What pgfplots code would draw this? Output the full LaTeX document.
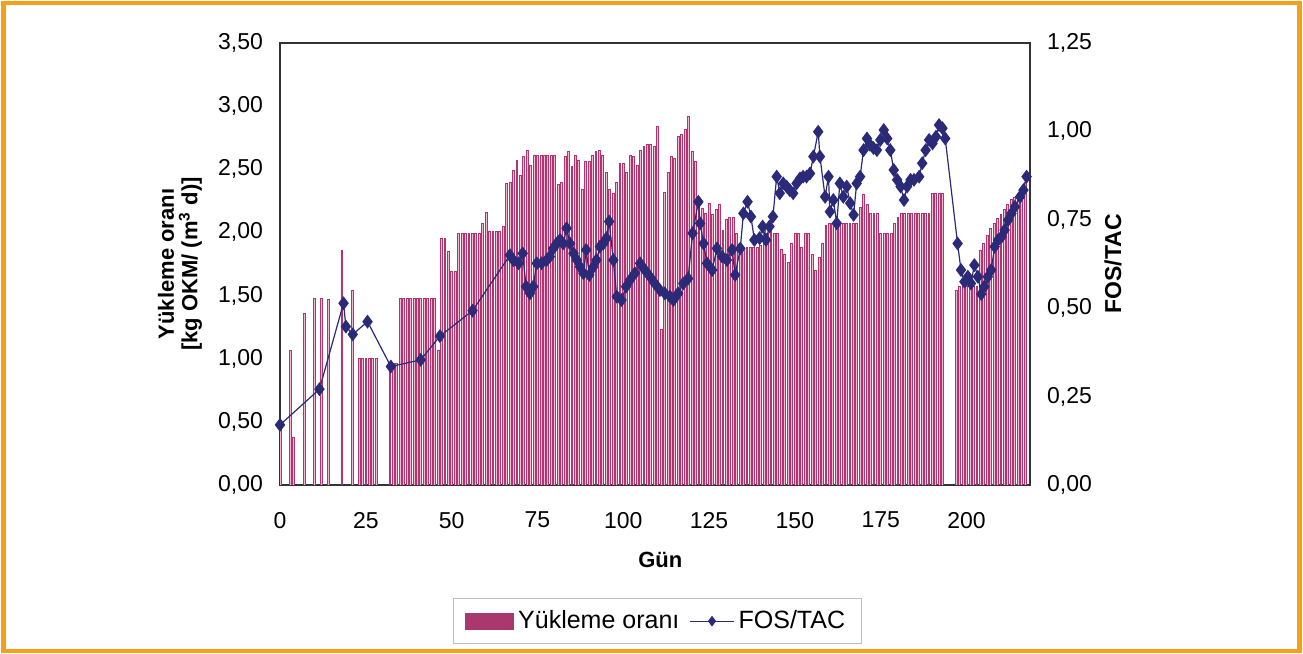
\documentclass[border=0pt]{standalone}
\usepackage{fontspec}
\setmainfont{Liberation Sans}
\usepackage{pgfplots}
\pgfplotsset{compat=1.18}
\definecolor{barfill}{HTML}{F0BCD5}
\definecolor{baredge}{HTML}{B0356F}
\definecolor{navyM}{HTML}{2A2A78}
\definecolor{frameor}{HTML}{F6A01A}
\definecolor{legbar}{HTML}{A8386E}
\begin{document}
\begin{tikzpicture}[x=1pt,y=1pt]
\useasboundingbox (0,0) rectangle (651.5,327);
\draw[frameor, line width=2.2pt] (1.8,1.5) rectangle (649.7,325.5);
\begin{axis}[
  at={(140pt,84.5pt)}, anchor=south west,
  scale only axis, width=375pt, height=221pt,
  xmin=0, xmax=218.5, ymin=0, ymax=3.5,
  ybar, bar width=0.55,
  xtick={0,25,...,200}, ytick={0,0.5,1,1.5,2,2.5,3,3.5},
  axis line style={draw=black!80, line width=0.7pt},
  major tick length=0pt,
  tick label style={font=\fontsize{11.5}{13}\selectfont},
  /pgf/number format/assume math mode=true,
  yticklabel style={/pgf/number format/.cd, fixed, fixed zerofill, precision=2, use comma, /tikz/.cd, xshift=-5pt},
  xticklabel style={yshift=-10pt},
  ylabel={Yükleme oranı\\ {[}kg OKM/ (m\textsuperscript{3} d){]}},
  ylabel style={at={(axis description cs:-0.1333,0.5)}, anchor=center, align=center, font=\bfseries\fontsize{11}{11.8}\selectfont},
  xlabel={Gün},
  xlabel style={at={(axis description cs:0.507,-0.17)}, anchor=center, font=\bfseries\fontsize{11}{13}\selectfont},
]
\addplot[fill=barfill, draw=baredge, line width=0.3pt] coordinates {
(0,0.48)(3,1.07)(4,0.38)(7,1.36)(10,1.48)(12,1.48)(14,1.47)(18,1.86)(21,1.54)
(23,1.00)(24,1.00)(25,1.00)(26,1.00)(27,1.00)(28,1.00)(32,0.96)(33,0.96)(34,0.96)
(35,1.48)(36,1.48)(37,1.48)(38,1.48)(39,1.48)(40,1.48)(41,1.48)(42,1.48)(43,1.48)(44,1.48)(45,1.48)
(46,1.07)(47,1.95)(48,1.95)(49,1.85)(50,1.69)(51,1.69)(52,1.99)(53,1.99)(54,1.99)(55,1.99)(56,1.99)(57,1.99)(58,1.99)
(59,2.07)(60,2.16)(61,2.01)(62,2.01)(63,2.01)(64,2.01)(65,2.05)(66,2.39)(67,2.40)(68,2.49)(69,2.57)(70,2.45)
(71,2.60)(72,2.65)(73,2.53)(74,2.61)(75,2.61)(76,2.61)(77,2.61)(78,2.61)(79,2.61)(80,2.61)(81,2.38)(82,2.40)
(83,2.60)(84,2.64)(85,2.52)(86,2.61)(87,2.57)(88,2.34)(89,2.56)(90,2.56)(91,2.61)(92,2.64)(93,2.65)(94,2.61)
(95,2.48)(96,2.34)(97,2.31)(98,2.40)(99,2.55)(100,2.55)(101,2.48)(102,2.61)(103,2.60)(104,2.53)(105,2.65)
(106,2.68)(107,2.70)(108,2.70)(109,2.68)(110,2.84)(111,1.23)(112,2.32)(113,2.48)(114,2.60)(115,2.59)(116,2.76)
(117,2.78)(118,2.82)(119,2.92)(120,2.64)(121,2.56)(122,2.28)(123,2.19)(124,2.15)(125,2.23)(126,2.14)(127,2.18)
(128,2.22)(129,2.02)(130,2.10)(131,2.12)(132,2.12)(133,1.99)(134,1.83)(135,1.88)(136,1.88)(137,1.88)(138,1.88)
(139,1.88)(140,1.90)(141,2.05)(142,1.99)(143,2.15)(144,1.99)(145,1.99)(146,1.87)(147,1.83)(148,1.76)(149,1.91)
(150,1.99)(151,1.99)(152,1.88)(153,1.99)(154,1.99)(155,1.83)(156,1.70)(157,1.80)(158,1.91)(159,2.06)
(160,2.07)(161,2.07)(162,2.07)(163,2.07)(164,2.07)(165,2.07)(166,2.07)(167,2.07)(168,2.07)(169,2.20)(170,2.30)
(171,2.22)(172,2.15)(173,2.15)(174,2.15)(175,1.99)(176,1.99)(177,1.99)(178,1.99)(179,2.07)(180,2.12)
(181,2.15)(182,2.15)(183,2.15)(184,2.15)(185,2.15)(186,2.15)(187,2.15)(188,2.15)(189,2.15)
(190,2.31)(191,2.31)(192,2.31)(193,2.31)(197,1.54)(198,1.57)(199,1.57)(200,1.57)(201,1.57)(202,1.57)(203,1.57)
(204,1.86)(205,1.91)(206,1.98)(207,2.03)(208,2.07)(209,2.11)(210,2.14)(211,2.18)(212,2.22)(213,2.26)(214,2.28)
(215,2.31)(216,2.34)(217,2.40)
};
\end{axis}
\begin{axis}[
  at={(140pt,84.5pt)}, anchor=south west,
  scale only axis, width=375pt, height=221pt,
  xmin=0, xmax=218.5, ymin=0, ymax=1.25,
  axis x line=none, axis y line*=right,
  ytick={0,0.25,0.5,0.75,1,1.25},
  axis line style={draw=black!80, line width=0.7pt},
  major tick length=0pt,
  clip=false,
  tick label style={font=\fontsize{11.5}{13}\selectfont},
  /pgf/number format/assume math mode=true,
  yticklabel style={/pgf/number format/.cd, fixed, fixed zerofill, precision=2, use comma, /tikz/.cd, xshift=5pt},
  ylabel={FOS/TAC},
  ylabel style={at={(axis description cs:1.1107,0.5)}, anchor=center, font=\bfseries\fontsize{11.5}{13}\selectfont},
  legend style={at={(axis description cs:0.503,-0.308)}, anchor=center, legend columns=2, draw=black!25,
    font=\fontsize{12.5}{14}\selectfont, inner xsep=6pt, inner ysep=4pt,
    /tikz/every even column/.append style={column sep=3pt}},
]
\addlegendimage{legend image code/.code={\fill[legbar] (0pt,-4pt) rectangle (24pt,4pt);}}
\addlegendentry{Yükleme oranı}
\addplot[color=navyM, line width=0.6pt, mark=diamond*, mark size=3pt, mark options={fill=navyM, draw=navyM},
  legend image code/.code={\draw[mark size=2.2pt, mark repeat=2, mark phase=2] plot coordinates {(0pt,0pt) (11pt,0pt) (22pt,0pt)};}] coordinates {
(0,0.170)(11.5,0.271)(18.5,0.514)(19.2,0.448)(21.2,0.426)(25.5,0.462)(32.3,0.335)(41,0.354)(46.6,0.421)
(56.1,0.493)(67,0.650)(68,0.636)(69.5,0.627)(70.7,0.655)(71.7,0.561)(72.8,0.542)(73.8,0.561)(74.8,0.627)
(76.2,0.627)(77.7,0.636)(78.6,0.646)(79.6,0.669)(80.6,0.683)(81.6,0.693)(82.5,0.683)(83.5,0.726)(84.5,0.683)
(85.5,0.655)(86.5,0.636)(87.4,0.617)(88.4,0.599)(89.2,0.665)(90.1,0.594)(91.3,0.617)(92.2,0.636)(93.2,0.674)
(94.2,0.683)(95.1,0.698)(95.9,0.745)(97.1,0.636)(98.1,0.533)(99.5,0.523)(100.8,0.561)(102,0.580)(103.4,0.599)
(104.9,0.627)(106.3,0.608)(107.8,0.589)(109.2,0.570)(110.7,0.551)(112.1,0.542)(113.6,0.533)(114.6,0.523)
(116,0.542)(117.5,0.570)(118.9,0.584)(120.2,0.712)(121.9,0.801)(122.4,0.740)(123.4,0.683)(124.4,0.627)
(125.9,0.608)(127.3,0.669)(128.8,0.646)(130.2,0.636)(131.7,0.665)(132.6,0.594)(134.1,0.669)(135,0.768)
(136.2,0.801)(137.2,0.759)(138.2,0.693)(139.7,0.698)(140.6,0.731)(141.6,0.693)(142.6,0.731)(143.6,0.759)
(144.7,0.872)(145.6,0.825)(146.6,0.853)(147.6,0.844)(148.5,0.834)(149.5,0.825)(150.5,0.853)(151.5,0.867)
(152.4,0.872)(153.4,0.872)(154.4,0.881)(155.4,0.929)(156.8,0.999)(157.3,0.929)(158.8,0.815)(159.8,0.872)
(160.2,0.773)(161.2,0.806)(162.2,0.740)(163.1,0.853)(164.1,0.815)(165.1,0.844)(166.1,0.797)(167.1,0.764)
(168,0.853)(169,0.872)(170,0.947)(171,0.980)(171.9,0.962)(172.9,0.953)(173.9,0.947)(174.9,0.976)(175.9,1.004)
(176.9,0.980)(177.8,0.947)(178.8,0.891)(179.8,0.863)(180.8,0.844)(181.8,0.806)(182.7,0.844)(183.7,0.863)
(184.7,0.863)(186.2,0.872)(187.1,0.910)(188.1,0.947)(189.1,0.976)(190.1,0.966)(191.1,0.985)(192,1.018)
(193,1.009)(193.8,0.980)(197.4,0.683)(198.4,0.608)(199.4,0.575)(200.4,0.589)(201.3,0.570)(202.3,0.622)
(203.3,0.589)(204.3,0.540)(205.2,0.561)(206.2,0.589)(207.2,0.608)(208.2,0.674)(209.2,0.693)(210.2,0.702)
(211.1,0.721)(212.1,0.749)(213.1,0.768)(214.1,0.787)(215.6,0.815)(216.6,0.834)(217.5,0.872)
};
\addlegendentry{FOS/TAC}
\end{axis}
\end{tikzpicture}
\end{document}
